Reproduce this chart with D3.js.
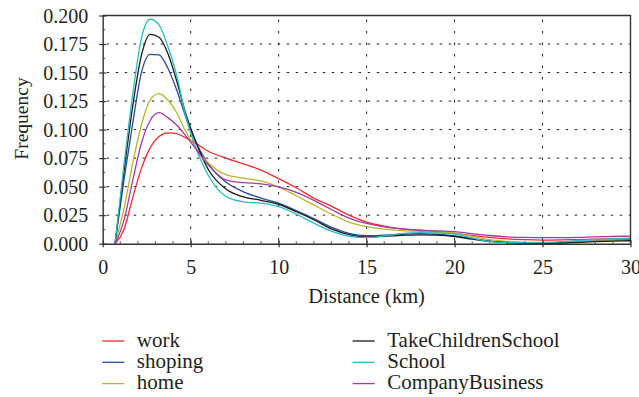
<!DOCTYPE html>
<html>
<head>
<meta charset="utf-8">
<script src="https://cdn.jsdelivr.net/npm/d3@7"></script>
<style>
  html, body { margin: 0; padding: 0; background: #fff; }
</style>
</head>
<body>
<div id="chart"></div>
<script>
// distance (km) sample points
const distance = [0.7, 1.2, 1.7, 2.2, 2.7, 3.2, 3.7, 4.2, 4.7, 5.2,
  6, 7, 8, 9, 10, 11, 12, 13, 14, 15, 16, 17, 18, 19, 20,
  21, 22, 23, 24, 25, 26, 27, 28, 29, 30];

const work = [0, 0.012, 0.04, 0.066, 0.084, 0.094, 0.0972, 0.0965, 0.093, 0.089,
  0.081, 0.075, 0.070, 0.0645, 0.057, 0.049, 0.040, 0.033, 0.025, 0.019,
  0.0155, 0.013, 0.0118, 0.0105, 0.009, 0.0072, 0.0055, 0.0042, 0.0035, 0.0032,
  0.0033, 0.0036, 0.004, 0.0043, 0.0047];
const shoping = [0, 0.055, 0.105, 0.15, 0.166, 0.1654, 0.154, 0.135, 0.112, 0.092,
  0.07, 0.054, 0.0455, 0.040, 0.0355, 0.029, 0.022, 0.0145, 0.009, 0.007,
  0.0075, 0.0083, 0.0088, 0.0083, 0.0068, 0.0045, 0.0022, 0.001, 0.0005, 0.0004,
  0.0008, 0.0016, 0.0024, 0.003, 0.0036];
const home = [0, 0.03, 0.07, 0.104, 0.126, 0.1315, 0.126, 0.115, 0.099, 0.086,
  0.071, 0.0605, 0.0575, 0.055, 0.0497, 0.042, 0.034, 0.026, 0.019, 0.015,
  0.0128, 0.0115, 0.0108, 0.0102, 0.0092, 0.0065, 0.0035, 0.002, 0.0012, 0.0012,
  0.0013, 0.0017, 0.0022, 0.0027, 0.0032];
const takeChildrenSchool = [0, 0.062, 0.12, 0.165, 0.1835, 0.181, 0.167, 0.143, 0.115, 0.093,
  0.065, 0.048, 0.041, 0.038, 0.0345, 0.028, 0.021, 0.013, 0.008, 0.006,
  0.0065, 0.0073, 0.0078, 0.0075, 0.0063, 0.004, 0.002, 0.001, 0.0005, 0.0004,
  0.0006, 0.0012, 0.0018, 0.0022, 0.0026];
const school = [0, 0.068, 0.13, 0.18, 0.1967, 0.1917, 0.173, 0.148, 0.113, 0.088,
  0.06, 0.0415, 0.0367, 0.0355, 0.0325, 0.026, 0.018, 0.011, 0.0065, 0.0053,
  0.0068, 0.0088, 0.0097, 0.0094, 0.0085, 0.005, 0.002, 0.001, 0.0009, 0.001,
  0.0016, 0.0028, 0.0038, 0.0043, 0.0046];
const companyBusiness = [0, 0.02, 0.055, 0.088, 0.108, 0.1148, 0.1105, 0.104, 0.095, 0.085,
  0.069, 0.056, 0.0535, 0.0525, 0.0497, 0.045, 0.038, 0.030, 0.0225, 0.0178,
  0.0148, 0.013, 0.0118, 0.0113, 0.0105, 0.0088, 0.0072, 0.006, 0.0055, 0.0053,
  0.0053, 0.0055, 0.006, 0.0063, 0.0067];

const seriesNames = ['work', 'shoping', 'home', 'TakeChildrenSchool', 'School', 'CompanyBusiness'];
const seriesValues = [work, shoping, home, takeChildrenSchool, school, companyBusiness];
const seriesColors = ['#ef2b2d', '#2c49a8', '#b8b52c', '#1a1a1a', '#25bec2', '#a33aa6'];

const xTicks = [0, 5, 10, 15, 20, 25, 30];
const yTicks = [0, 0.025, 0.05, 0.075, 0.1, 0.125, 0.15, 0.175, 0.2];

const width = 639, height = 397;
const plotLeft = 102.7, plotRight = 630.5, plotTop = 15.5, plotBottom = 243.7;
const serif = '"Liberation Serif", "DejaVu Serif", "Times New Roman", serif';
const textColor = '#231f20';

const svg = d3.select('#chart').append('svg')
  .attr('width', width).attr('height', height);

const x = d3.scaleLinear().domain([0, 30]).range([plotLeft, plotRight]);
const y = d3.scaleLinear().domain([0, 0.2]).range([plotBottom, plotTop]);

// grid
const grid = svg.append('g').attr('stroke', '#222').attr('stroke-width', 1);
grid.selectAll('line.h').data(yTicks.slice(1, -1)).enter().append('line')
  .attr('x1', plotLeft + 4).attr('x2', plotRight)
  .attr('y1', d => y(d)).attr('y2', d => y(d))
  .attr('stroke-dasharray', '2.5,6.5');
grid.selectAll('line.v').data(xTicks.slice(1, -1)).enter().append('line')
  .attr('x1', d => x(d)).attr('x2', d => x(d))
  .attr('y1', plotTop + 4).attr('y2', plotBottom)
  .attr('stroke-dasharray', '2.5,9');

// lines
const line = d3.line().curve(d3.curveMonotoneX);
seriesValues.forEach((vals, i) => {
  svg.append('path')
    .attr('d', line(distance.map((d, j) => [x(d), y(vals[j])])))
    .attr('fill', 'none')
    .attr('stroke', seriesColors[i])
    .attr('stroke-width', 1.3);
});

// minor ticks
svg.append('g').attr('stroke', '#555').attr('stroke-width', 1)
  .selectAll('line').data(d3.range(1, 30)).enter().append('line')
  .attr('x1', d => x(d)).attr('x2', d => x(d))
  .attr('y1', plotBottom).attr('y2', plotBottom - 2.5);
svg.append('g').attr('stroke', '#555').attr('stroke-width', 1)
  .selectAll('line').data(d3.range(0.0125, 0.2, 0.025)).enter().append('line')
  .attr('x1', plotLeft).attr('x2', plotLeft + 2.5)
  .attr('y1', d => y(d)).attr('y2', d => y(d));

// axes
const xAxis = svg.append('g').attr('transform', `translate(0,${plotBottom})`)
  .call(d3.axisBottom(x).tickValues(xTicks).tickSizeOuter(0).tickFormat(d3.format('d')));
xAxis.selectAll('.tick line').attr('y1', -3.5).attr('y2', 3.5);
xAxis.selectAll('.tick text').attr('y', 30.3).attr('dy', 0);

const yAxis = svg.append('g').attr('transform', `translate(${plotLeft},0)`)
  .call(d3.axisLeft(y).tickValues(yTicks).tickSizeOuter(0).tickFormat(d3.format('.3f')));
yAxis.selectAll('.tick line').attr('x1', -3.5).attr('x2', 3.5);
yAxis.selectAll('.tick text').attr('x', -14.5).attr('dy', '0.33em');

[xAxis, yAxis].forEach(g => {
  g.attr('font-family', serif).attr('font-size', 20);
  g.select('.domain').attr('stroke', '#333').attr('stroke-width', 1.4);
  g.selectAll('.tick line').attr('stroke', '#333').attr('stroke-width', 1.2);
  g.selectAll('.tick text').attr('fill', textColor);
});

// frame top/right
svg.append('path')
  .attr('d', `M${plotLeft},${plotTop}H${plotRight}V${plotBottom}`)
  .attr('fill', 'none').attr('stroke', '#333').attr('stroke-width', 1.4);

// titles
svg.append('text')
  .attr('x', (plotLeft + plotRight) / 2).attr('y', 302.7)
  .attr('text-anchor', 'middle')
  .attr('font-family', serif).attr('font-size', 20.5).attr('fill', textColor)
  .text('Distance (km)');
svg.append('text')
  .attr('transform', 'translate(27.5,118.5) rotate(-90)')
  .attr('text-anchor', 'middle')
  .attr('font-family', serif).attr('font-size', 19.5).attr('fill', textColor)
  .text('Frequency');

// legend
const legendX = [102.3, 352.7];
const legendY = [346.7, 368, 389.3];
seriesNames.forEach((name, i) => {
  const col = Math.floor(i / 3), row = i % 3;
  const g = svg.append('g').attr('transform', `translate(${legendX[col]},${legendY[row]})`);
  g.append('line').attr('x1', 0).attr('x2', 22).attr('y1', -5.7).attr('y2', -5.7)
    .attr('stroke', seriesColors[i]).attr('stroke-width', 1.3);
  g.append('text').attr('x', 34.5).attr('y', 0)
    .attr('font-family', serif).attr('font-size', 21).attr('fill', textColor)
    .text(name);
});
</script>
</body>
</html>
